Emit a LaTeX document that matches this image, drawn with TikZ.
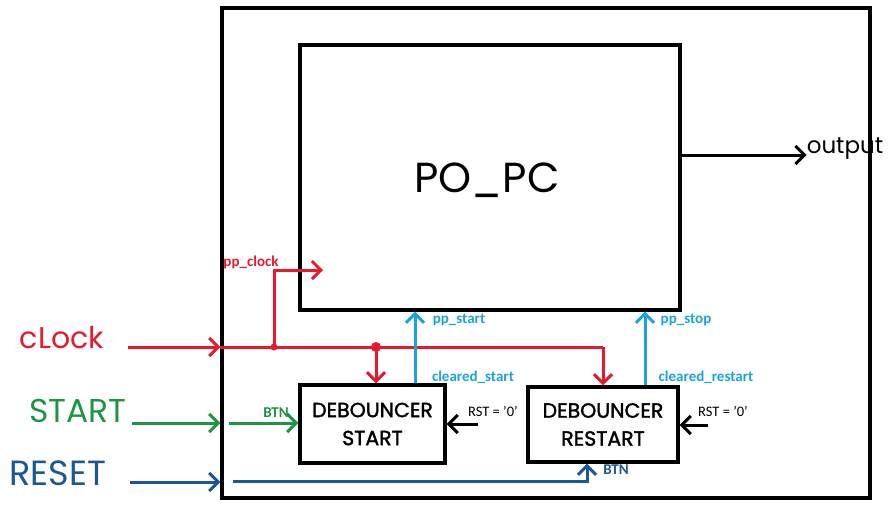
\documentclass[tikz,border=0pt]{standalone}
\usepackage{fontspec}
\setmainfont{Carlito}
\newfontfamily\hand{Poppins}
\newfontfamily\handb[FakeBold=1.6]{Poppins}
\usetikzlibrary{arrows.meta}
\definecolor{cred}{HTML}{E8192C}
\definecolor{cblue}{HTML}{1AA3DD}
\definecolor{cgreen}{HTML}{1C9645}
\definecolor{cdblue}{HTML}{1A5796}
\tikzset{
  box/.style={draw=black,line width=3.4pt,minimum width=#1,inner sep=0pt},
  wire/.style={line width=3pt,-{Straight Barb[length=9pt,width=18pt,line width=3pt]}},
  plain/.style={line width=3pt},
  lab/.style={font=\bfseries\fontsize{15}{17}\selectfont,inner sep=1pt},
  big/.style={font=\hand\fontsize{#1}{#1}\selectfont,inner sep=0pt},
  dot/.style={circle,fill=cred,inner sep=0pt,minimum size=#1}
}
\begin{document}
\begin{tikzpicture}[x=1pt,y=-1pt]
\useasboundingbox[fill=white] (0,0) rectangle (890,520);
% boxes
\node[box=648pt,minimum height=490pt] (outer) at (546,253) {};
\node[box=380pt,minimum height=265pt] (pop) at (490,177.5) {};
\node[big=42] (poptxt) at (487,180) {PO\_PC};
\node[box=145pt,minimum height=78pt,align=center,font=\handb\fontsize{20.5}{28}\selectfont] (dbs) at (372.5,424) {DEBOUNCER\\START};
\node[box=150pt,minimum height=75pt,align=center,font=\handb\fontsize{20.5}{28}\selectfont] (dbr) at (603,424.5) {DEBOUNCER\\RESTART};
% input labels
\node[big=30,text=cred] (clktxt) at (62,338) {cLock};
\node[big=33,text=cgreen] (sttxt) at (78,411) {START};
\node[big=35,text=cdblue] (rstxt) at (58,473) {RESET};
\node[big=23] (outtxt) at (845,149) {output};
% coordinates
\coordinate (clkin) at (128,347);
\coordinate (j1) at (274,347);
\coordinate (j2) at (376,347);
\coordinate (jr) at (603,347);
\coordinate (pcclk) at (323,270);
\coordinate (stin) at (132,423);
\coordinate (stmid) at (229,423);
\coordinate (rsin) at (130,482);
\coordinate (rsmid) at (233,481);
\coordinate (rst1) at (478,424);
\coordinate (rst2) at (708,425);
% clock
\draw[wire,cred] (clkin) -- (clkin -| outer.west);
\draw[plain,cred] (clkin -| outer.west) -- (jr);
\draw[wire,cred] (j1) |- (pcclk);
\draw[wire,cred] (j2) -- (j2 |- dbs.north);
\draw[wire,cred] (jr) -- (jr |- dbr.north);
\node[dot=7pt] (d1) at (j1) {};
\node[dot=10pt] (d2) at (j2) {};
\node[lab,text=cred] (ppclk) at (251,262) {pp\_clock};
% start / stop feedback
\draw[wire,cblue] ([xshift=42.5pt]dbs.north) -- ([xshift=42.5pt]dbs.north |- pop.south);
\draw[wire,cblue] ([xshift=42pt]dbr.north) -- ([xshift=42pt]dbr.north |- pop.south);
\node[lab,text=cblue] (ppstart) at (459,320) {pp\_start};
\node[lab,text=cblue] (clst) at (473,377) {cleared\_start};
\node[lab,text=cblue] (ppstop) at (686,320) {pp\_stop};
\node[lab,text=cblue] (clrs) at (706,377) {cleared\_restart};
% START
\draw[wire,cgreen] (stin) -- (stin -| outer.west);
\draw[wire,cgreen] (stmid) -- (stmid -| dbs.west);
\node[lab,text=cgreen] (btn1) at (276,413) {BTN};
% RESET
\draw[wire,cdblue] (rsin) -- (rsin -| outer.west);
\draw[wire,cdblue] (rsmid) -| ([xshift=-16pt]dbr.south);
\node[lab,text=cdblue] (btn2) at (616,470) {BTN};
% RST
\draw[wire,black] (rst1) -- (rst1 -| dbs.east);
\draw[wire,black] (rst2) -- (rst2 -| dbr.east);
\node[lab,font=\fontsize{14.5}{17}\selectfont] (rsta) at (493,411) {RST = '0'};
\node[lab,font=\fontsize{14.5}{17}\selectfont] (rstb) at (723,411) {RST = '0'};
% output
\draw[wire,black] ([yshift=22.5pt]pop.east) -- (outtxt.west |- 0,155);
\end{tikzpicture}
\end{document}
